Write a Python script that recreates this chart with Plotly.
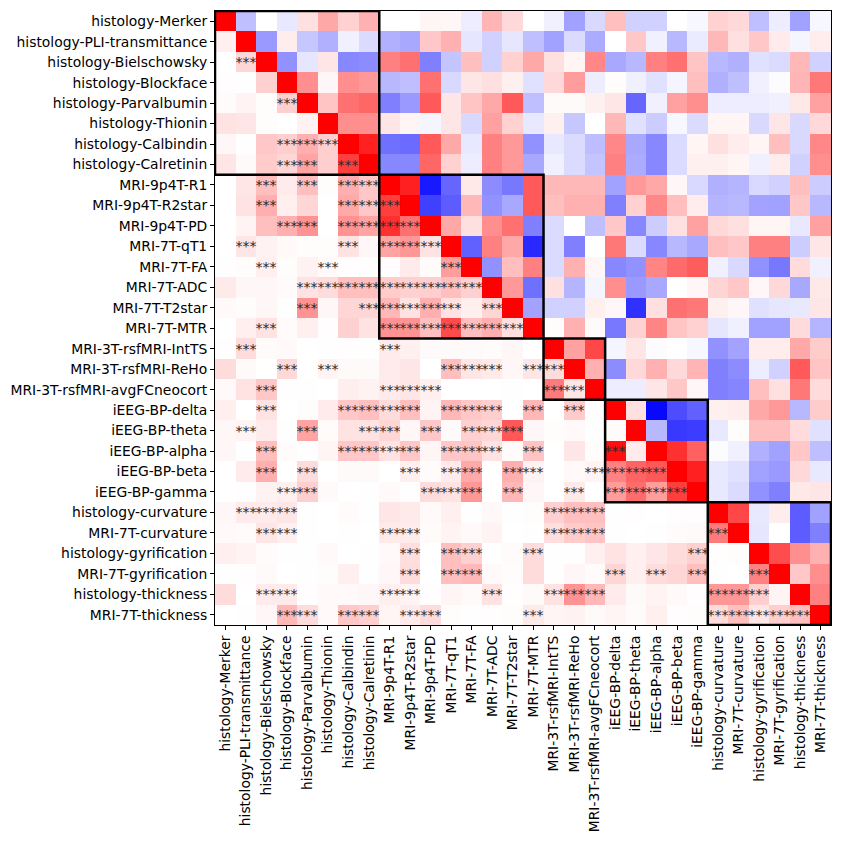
import plotly.graph_objects as go

labels = [
    "histology-Merker", "histology-PLI-transmittance", "histology-Bielschowsky",
    "histology-Blockface", "histology-Parvalbumin", "histology-Thionin",
    "histology-Calbindin", "histology-Calretinin", "MRI-9p4T-R1", "MRI-9p4T-R2star",
    "MRI-9p4T-PD", "MRI-7T-qT1", "MRI-7T-FA", "MRI-7T-ADC", "MRI-7T-T2star",
    "MRI-7T-MTR", "MRI-3T-rsfMRI-IntTS", "MRI-3T-rsfMRI-ReHo",
    "MRI-3T-rsfMRI-avgFCneocort", "iEEG-BP-delta", "iEEG-BP-theta", "iEEG-BP-alpha",
    "iEEG-BP-beta", "iEEG-BP-gamma", "histology-curvature", "MRI-7T-curvature",
    "histology-gyrification", "MRI-7T-gyrification", "histology-thickness",
    "MRI-7T-thickness",
]

# Upper triangle correlations: row i holds r(i, j) for j = i+1 .. 29
corr_upper = [
    [-0.25, 0.00, -0.09, 0.12, 0.34, 0.18, 0.31, 0.00, 0.00, 0.04, 0.03, -0.07, 0.29, 0.15, 0.00, -0.06, -0.37, -0.15, 0.25, -0.18, -0.18, 0.00, -0.03, 0.18, 0.15, -0.25, -0.07, -0.37, -0.03],
    [-0.40, 0.07, -0.22, -0.31, -0.06, -0.14, -0.31, -0.34, 0.22, 0.31, -0.10, -0.18, -0.10, -0.25, -0.37, -0.14, -0.33, 0.00, 0.22, -0.06, -0.28, -0.08, 0.28, 0.12, 0.22, 0.08, -0.04, 0.07],
    [-0.43, -0.10, 0.10, -0.47, -0.45, 0.50, 0.56, -0.50, -0.23, 0.25, -0.18, 0.18, 0.34, 0.12, 0.04, 0.47, -0.34, -0.28, 0.50, 0.56, 0.23, -0.28, -0.31, -0.12, -0.14, 0.28, -0.18],
    [0.44, 0.03, 0.44, 0.40, -0.28, -0.25, 0.56, -0.15, 0.10, 0.12, 0.06, -0.12, 0.15, 0.39, -0.07, 0.01, -0.06, -0.12, -0.04, 0.25, -0.31, -0.25, -0.06, -0.01, 0.29, 0.53],
    [0.23, 0.56, 0.60, -0.50, -0.40, 0.65, 0.10, 0.23, 0.34, 0.65, -0.25, 0.02, 0.02, 0.06, 0.10, -0.60, -0.06, 0.37, 0.44, -0.07, -0.07, -0.07, -0.06, 0.09, 0.37],
    [0.44, 0.44, 0.10, 0.04, -0.04, 0.10, -0.15, 0.37, 0.18, -0.09, 0.06, -0.22, 0.00, 0.28, -0.12, -0.20, -0.03, -0.14, 0.04, 0.04, -0.15, 0.10, -0.15, 0.15],
    [0.87, -0.56, -0.58, 0.65, 0.34, -0.09, 0.50, 0.40, -0.43, -0.09, -0.14, -0.26, 0.47, -0.34, -0.47, -0.14, 0.04, 0.12, 0.07, 0.04, 0.25, -0.15, 0.47],
    [-0.47, -0.47, 0.60, 0.18, -0.07, 0.50, 0.40, -0.34, -0.06, -0.14, -0.23, 0.50, -0.33, -0.47, -0.14, 0.06, 0.06, 0.04, -0.06, 0.07, -0.18, 0.44],
    [0.87, -0.90, -0.60, 0.09, -0.45, -0.53, 0.65, 0.28, 0.28, 0.28, -0.37, 0.40, 0.34, 0.03, -0.15, -0.31, -0.29, -0.15, -0.18, 0.25, -0.20],
    [-0.75, -0.64, 0.28, -0.43, -0.34, 0.65, 0.25, 0.31, 0.31, -0.50, 0.18, 0.47, 0.25, 0.07, -0.29, -0.28, -0.36, -0.37, 0.22, -0.28],
    [0.34, 0.12, 0.44, 0.56, -0.50, -0.14, 0.00, -0.25, 0.22, -0.47, -0.20, 0.12, 0.37, 0.15, 0.12, 0.04, 0.04, -0.09, 0.37],
    [-0.62, 0.50, 0.34, -0.84, -0.14, -0.50, 0.00, 0.53, -0.14, -0.47, -0.28, -0.34, 0.25, 0.22, 0.50, 0.50, -0.20, 0.10],
    [-0.43, 0.25, 0.50, -0.14, 0.31, 0.03, -0.47, -0.43, 0.48, 0.58, 0.64, -0.06, -0.15, -0.43, -0.53, 0.14, -0.06],
    [0.40, -0.56, 0.12, -0.29, -0.04, 0.44, -0.40, -0.34, 0.00, 0.03, 0.17, 0.22, 0.03, 0.15, -0.34, 0.09],
    [-0.36, -0.18, -0.18, 0.06, 0.03, -0.81, 0.12, 0.56, 0.53, 0.06, 0.03, -0.12, -0.10, -0.09, 0.10],
    [0.01, 0.31, 0.02, -0.53, 0.18, 0.48, 0.23, 0.18, -0.10, -0.06, -0.37, -0.37, 0.14, -0.29],
    [0.37, 0.72, -0.04, 0.10, -0.01, 0.00, -0.03, -0.43, -0.36, 0.07, 0.07, 0.34, 0.20],
    [0.31, -0.45, 0.15, 0.31, 0.15, 0.29, -0.50, -0.45, -0.07, -0.18, 0.65, 0.23],
    [-0.07, -0.07, 0.10, 0.22, 0.03, -0.50, -0.48, 0.25, 0.12, 0.53, 0.14],
    [0.12, -0.97, -0.70, -0.62, 0.06, 0.07, 0.34, 0.40, -0.28, 0.20],
    [-0.28, -0.78, -0.76, -0.09, 0.01, 0.25, 0.25, 0.14, -0.12],
    [0.81, 0.62, -0.01, -0.06, -0.31, -0.37, 0.22, -0.25],
    [0.87, -0.09, -0.12, -0.37, -0.40, 0.15, -0.09],
    [-0.09, -0.14, -0.43, -0.50, 0.09, 0.10],
    [0.72, -0.09, 0.07, -0.64, -0.37],
    [-0.10, 0.00, -0.64, -0.50],
    [0.70, 0.44, 0.31],
    [0.22, 0.44],
    [0.50],
]

# Significant pairs (lower triangle): row -> columns marked "***"
significant = {
    2: [1], 4: [3], 6: [3, 4, 5], 7: [3, 4, 6], 8: [2, 4, 6, 7], 9: [2, 6, 7, 8],
    10: [3, 4, 6, 7, 8, 9], 11: [1, 6, 8, 9, 10], 12: [2, 5, 11],
    13: [4, 5, 6, 7, 8, 9, 10, 11, 12], 14: [4, 7, 8, 9, 10, 11, 13],
    15: [2, 8, 9, 10, 11, 12, 13, 14], 16: [1, 8], 17: [3, 5, 11, 12, 13, 15, 16],
    18: [2, 8, 9, 10, 16, 17], 19: [2, 6, 7, 8, 9, 11, 12, 13, 15, 17],
    20: [1, 4, 7, 8, 10, 12, 13, 14], 21: [2, 6, 7, 8, 9, 11, 12, 13, 15, 19],
    22: [2, 4, 9, 11, 12, 14, 15, 18, 19, 20, 21],
    23: [3, 4, 10, 11, 12, 14, 17, 19, 20, 21, 22], 24: [1, 2, 3, 16, 17, 18],
    25: [2, 3, 8, 9, 16, 17, 18, 24], 26: [9, 11, 12, 15, 23],
    27: [9, 11, 12, 19, 21, 23, 26], 28: [2, 3, 8, 9, 13, 16, 17, 18, 24, 25, 26],
    29: [3, 4, 6, 7, 9, 10, 15, 24, 25, 26, 27, 28],
}

groups = [(0, 7), (8, 15), (16, 18), (19, 23), (24, 29)]

n = len(labels)
z = [[0.0] * n for _ in range(n)]
txt = [[""] * n for _ in range(n)]
for i in range(n):
    z[i][i] = 1.0
    for k, v in enumerate(corr_upper[i] if i < n - 1 else []):
        j = i + 1 + k
        z[i][j] = v
        z[j][i] = v * v  # lower triangle shows r squared
for r, cols in significant.items():
    for c in cols:
        txt[r][c] = "***"

bwr = [[0.0, "rgb(0,0,255)"], [0.5, "rgb(255,255,255)"], [1.0, "rgb(255,0,0)"]]

fig = go.Figure(go.Heatmap(
    z=z, x=list(range(n)), y=list(range(n)), text=txt,
    texttemplate="%{text}", textfont=dict(size=14, color="#2a2a2a", family="DejaVu Sans"),
    colorscale=bwr, zmin=-1, zmax=1, showscale=False, xgap=0, ygap=0,
    hoverinfo="skip",
))

shapes = []
for a, b in groups:
    shapes.append(dict(type="rect", xref="x", yref="y", x0=a - 0.5, x1=b + 0.5,
                       y0=a - 0.5, y1=b + 0.5, line=dict(color="black", width=2.5),
                       fillcolor="rgba(0,0,0,0)"))

axis_common = dict(
    tickmode="array", tickvals=list(range(n)), ticktext=labels,
    ticks="outside", ticklen=4, tickwidth=1, tickcolor="black",
    showline=True, linecolor="black", linewidth=1, mirror=True,
    showgrid=False, zeroline=False,
    tickfont=dict(family="DejaVu Sans", size=13.9, color="black"),
)

fig.update_layout(
    width=842, height=842,
    margin=dict(l=215, r=10, t=10, b=216),
    paper_bgcolor="white", plot_bgcolor="white",
    xaxis=dict(range=[-0.5, n - 0.5], tickangle=-90, **axis_common),
    yaxis=dict(range=[n - 0.5, -0.5], **axis_common),
    shapes=shapes,
)

fig.write_html("out.html")
